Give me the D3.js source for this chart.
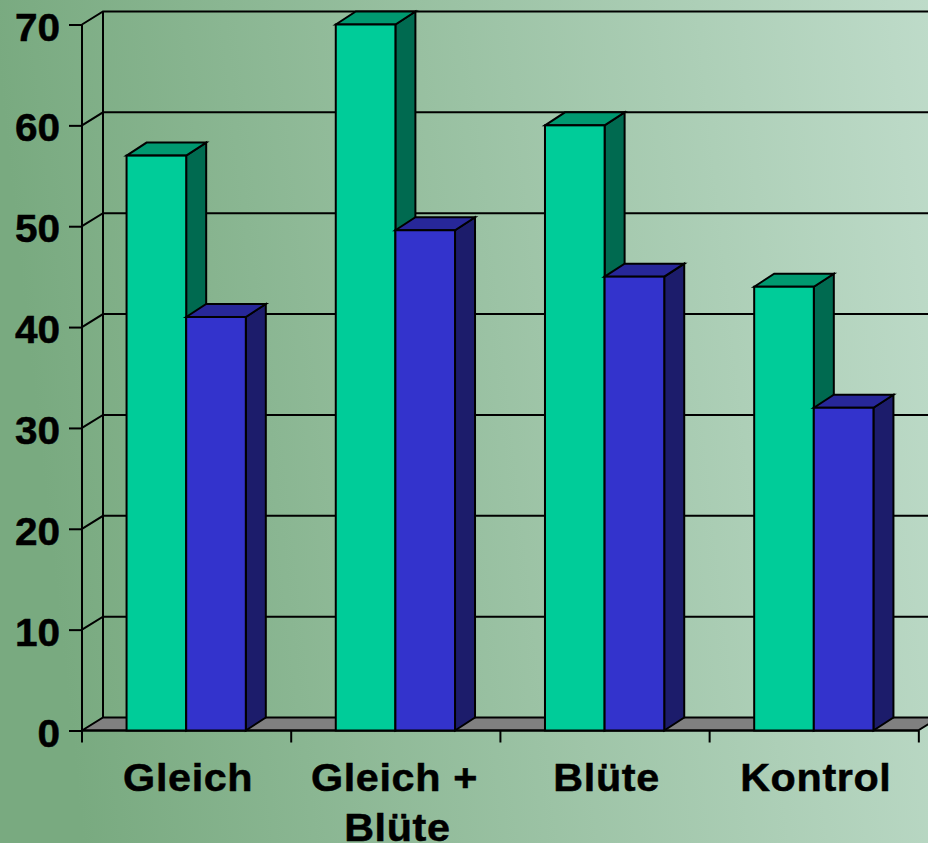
<!DOCTYPE html>
<html><head><meta charset="utf-8">
<script src="https://cdnjs.cloudflare.com/ajax/libs/d3/7.8.5/d3.min.js"></script>
<style>html,body{margin:0;padding:0;overflow:hidden}svg{display:block}
text{font-family:"Liberation Sans",Arial,sans-serif;font-weight:700;fill:#000;stroke:#000;stroke-width:.5px}</style>
</head><body><svg id="c" width="928" height="843"></svg>
<script>
const categories = ["Gleich", "Gleich +|Blüte", "Blüte", "Kontrol"];
const seriesNames = ["A", "B"];
const seriesA = [57, 70, 60, 44];
const seriesB = [41, 49.6, 45, 32];
const yTicks = [0, 10, 20, 30, 40, 50, 60, 70];
const frontColors = ["#00CC99", "#3333CC"];
const topColors = ["#009970", "#272799"];
const sideColors = ["#006A50", "#1C1C6B"];

const svg = d3.select("#c");
const W = 928, H = 843;
const dx = 21, dy = -13;
const x0 = d3.scaleBand().domain(categories).range([82, 918]).paddingInner(0.43).paddingOuter(0.213);
const x1 = d3.scaleBand().domain(seriesNames).range([0, x0.bandwidth()]);
const y = d3.scaleLinear().domain([0, 70]).range([730.5, 24.5]);

const defs = svg.append("defs");
const g = defs.append("linearGradient").attr("id", "bg").attr("x1", "0").attr("y1", "0.1").attr("x2", "1").attr("y2", "0");
g.append("stop").attr("offset", "0").attr("stop-color", "#79AA80");
g.append("stop").attr("offset", "1").attr("stop-color", "#BEDBC9");
svg.append("rect").attr("width", W).attr("height", H).attr("fill", "url(#bg)");

const path = pts => "M" + pts.map(p => p.join(",")).join("L") + "Z";
const L = x0.range()[0], R = x0.range()[1];

// floor
svg.append("path").attr("d", path([[L, y(0)], [L + dx, y(0) + dy], [R + dx, y(0) + dy], [R, y(0)]]))
  .attr("fill", "#808080").attr("stroke", "#000").attr("stroke-width", 2);

// gridlines on back + side wall
const grid = svg.append("g").attr("fill", "none").attr("stroke", "#000").attr("stroke-width", 2);
yTicks.forEach(t => {
  if (t > 0) grid.append("path").attr("d", `M${L},${y(t)}L${L + dx},${y(t) + dy}L${W + 2},${y(t) + dy}`);
});
grid.append("line").attr("x1", L + dx).attr("x2", L + dx).attr("y1", y(70) + dy).attr("y2", y(0) + dy);

// axes
const axY = d3.axisLeft(y).tickValues(yTicks).tickSize(13).tickPadding(9);
const gy = svg.append("g").attr("transform", `translate(${L},0)`).call(axY);
gy.select(".domain").remove();
gy.selectAll("line").attr("stroke", "#000").attr("stroke-width", 2);
gy.selectAll("text").attr("font-size", 39).attr("dy", null)
  .attr("text-anchor", "end")
  .attr("transform", "translate(-22,15.5) scale(1.04,1)")
  .attr("x", 0).attr("y", 0);
svg.append("line").attr("x1", L).attr("x2", L).attr("y1", y(70)).attr("y2", y(0) + 12).attr("stroke", "#000").attr("stroke-width", 2);
// x axis line and ticks
svg.append("line").attr("x1", L).attr("x2", R).attr("y1", y(0)).attr("y2", y(0)).attr("stroke", "#000").attr("stroke-width", 2);
const step = x0.step();
categories.forEach((c, i) => {
  const tx = L + step * (i + 1);
  svg.append("line").attr("x1", tx).attr("x2", tx).attr("y1", y(0)).attr("y2", y(0) + 12).attr("stroke", "#000").attr("stroke-width", 2);
});

// bars
const rows = categories.map((c, i) => ({ c, vals: [seriesA[i], seriesB[i]] }));
const bars = svg.append("g").attr("stroke", "#000").attr("stroke-width", 2).attr("stroke-linejoin", "miter");
rows.forEach(r => {
  [0, 1].forEach(k => {
    const s = seriesNames[k];
    const a = x0(r.c) + x1(s), b = a + x1.bandwidth(), t = y(r.vals[k]), z = y(0);
    bars.append("path").attr("d", path([[b, t], [b + dx - 1, t + dy], [b + dx - 1, z + dy], [b, z]])).attr("fill", sideColors[k]);
    bars.append("path").attr("d", path([[a, t], [a + dx - 1, t + dy], [b + dx - 1, t + dy], [b, t]])).attr("fill", topColors[k]);
    bars.append("rect").attr("x", a).attr("y", t).attr("width", b - a).attr("height", z - t).attr("fill", frontColors[k]);
  });
});

// category labels
const lab = svg.append("g").attr("font-size", 39).attr("text-anchor", "middle").attr("letter-spacing", 0.6);
categories.forEach(c => {
  const cx = x0(c) + x0.bandwidth() / 2 + 2;
  const lines = c.split("|");
  lines.forEach((ln, i) => {
    const off = lines.length > 1 && i === 0 ? -3 : 0;
    lab.append("text").attr("transform", `translate(${cx + off},${791 + i * 50}) scale(1.06,1)`).text(ln);
  });
});
</script></body></html>
